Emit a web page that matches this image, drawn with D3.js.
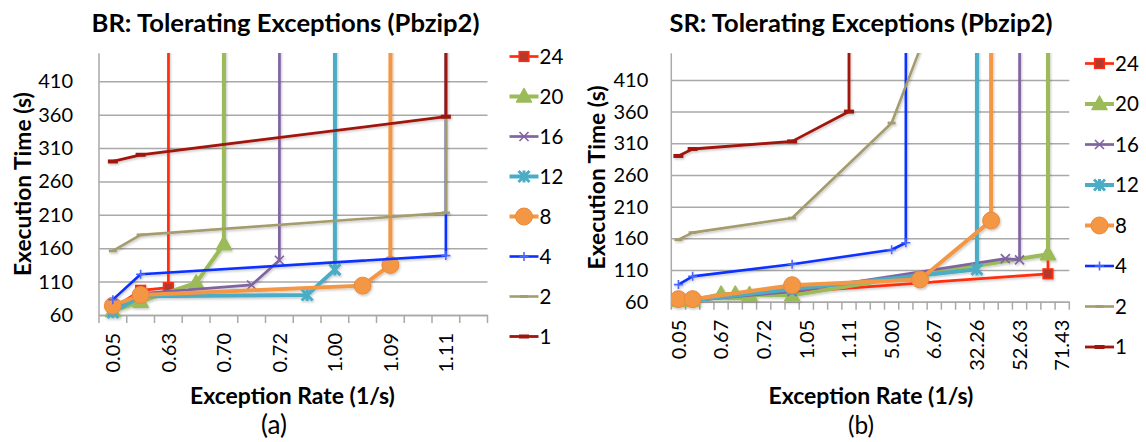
<!DOCTYPE html>
<html>
<head>
<meta charset="utf-8">
<script src="https://cdn.jsdelivr.net/npm/d3@7"></script>
<style>
  body { margin: 0; background: #fff; }
  svg { display: block; font-family: Lato, "Open Sans", sans-serif; }
</style>
</head>
<body>
<svg id="chart" width="1146" height="442"></svg>
<script>
// A run that never finished: plotted far above the axis, so its segment leaves the top of the plot.
const FAIL = 100000;
const _ = null;

// Thread counts, in series order (first series drawn first).
const threadCounts = ["24", "20", "16", "12", "8", "4", "2", "1"];
const yTicks = [60, 110, 160, 210, 260, 310, 360, 410];

// ---- BR panel: exception rates (1/s) on the category axis ----
const brRates = ["0.05", "0.50", "0.63", "0.67", "0.70", "0.71", "0.72",
                 "0.83", "1.00", "1.05", "1.09", "1.10", "1.11", "1.25"];
// Execution time (s) per rate; blanks are rates a run was not measured at.
const brTime24 = [70, 97, 101, FAIL, _, _, _, _, _, _, _, _, _, _];
const brTime20 = [66, 80, _, 108, 166, FAIL, _, _, _, _, _, _, _, _];
const brTime16 = [66, 92, _, _, _, 105, 142, FAIL, _, _, _, _, _, _];
const brTime12 = [64, 88, _, _, _, _, _, 90, 128, FAIL, _, _, _, _];
const brTime8  = [74, 90, _, _, _, _, _, _, _, 104, 135, FAIL, _, _];
const brTime4  = [83, 121, _, _, _, _, _, _, _, _, _, _, 149, FAIL];
const brTime2  = [156, 180, _, _, _, _, _, _, _, _, _, _, 213, FAIL];
const brTime1  = [290, 300, _, _, _, _, _, _, _, _, _, _, 357, FAIL];

// ---- SR panel ----
const srRates = ["0.05", "0.50", "0.63", "0.67", "0.69", "0.70", "0.72",
                 "0.83", "1.00", "1.05", "1.09", "1.10", "1.11", "1.25",
                 "2.50", "5.00", "5.26", "6.25", "6.67", "10.00", "20.00",
                 "32.26", "40.00", "50.00", "52.63", "55.56", "66.67", "71.43"];
const srTime24 = [62, 62, _, _, _, _, _, _, 75, _, _, _, _, _, _, _, _, _, _, _, _, _, _, _, _, _, 104, FAIL];
const srTime20 = [62, 62, _, 72, 72, 71, _, _, 70, _, _, _, _, _, _, _, _, _, _, _, _, _, _, _, _, _, 135, FAIL];
const srTime16 = [62, 62, _, _, _, _, _, _, 76, _, _, _, _, _, _, _, _, _, _, _, _, _, _, 128, 126, FAIL, _, _];
const srTime12 = [62, 62, _, _, _, _, _, _, 80, _, _, _, _, _, _, _, _, _, _, _, _, 111, FAIL, _, _, _, _, _];
const srTime8  = [64, 64, _, _, _, _, _, _, 86, _, _, _, _, _, _, _, _, 95, _, _, _, _, 188, FAIL, _, _, _, _];
const srTime4  = [87, 100, _, _, _, _, _, _, 119, _, _, _, _, _, _, 142, 153, FAIL, _, _, _, _, _, _, _, _, _, _];
const srTime2  = [158, 169, _, _, _, _, _, _, 192, _, _, _, _, _, _, 342, _, 459, _, _, _, _, _, _, _, _, _, _];
const srTime1  = [290, 301, _, _, _, _, _, _, 313, _, _, _, 360, FAIL, _, _, _, _, _, _, _, _, _, _, _, _, _, _];

// Line and marker style per thread count.
const styles = {
  "24": { color: "#FF2D0F", width: 2.7, marker: "square" },
  "20": { color: "#9BBB59", width: 4,   marker: "triangle" },
  "16": { color: "#8064A2", width: 2.7, marker: "cross" },
  "12": { color: "#4BACC6", width: 4,   marker: "star" },
  "8":  { color: "#F39745", width: 4,   marker: "circle" },
  "4":  { color: "#0A30FF", width: 2.6, marker: "plus" },
  "2":  { color: "#A59C6D", width: 2.6, marker: "smallDash" },
  "1":  { color: "#A0150C", width: 2.8, marker: "dash" }
};

const GRID = "#A9A9A9";
const svg = d3.select("#chart");
const defs = svg.append("defs");

// Scale a text's font size so that it spans the given width.
function fitWidth(sel, width) {
  const size = parseFloat(sel.attr("font-size"));
  const w = sel.node().getComputedTextLength();
  if (w > 0) sel.attr("font-size", (size * width / w).toFixed(2));
  return sel;
}

function drawMarker(sel, type, color) {
  switch (type) {
    case "square":
      sel.append("rect").attr("x", -4.8).attr("y", -4.8).attr("width", 9.6).attr("height", 9.6)
        .attr("fill", "#B6382C").attr("stroke", color).attr("stroke-width", 1.6);
      break;
    case "triangle":
      sel.append("path").attr("d", "M0,-8L7.5,5.5L-7.5,5.5Z")
        .attr("fill", color).attr("stroke", color).attr("stroke-width", 1.5).attr("stroke-linejoin", "round");
      break;
    case "cross":
      sel.append("path").attr("d", "M-4.5,-4.5L4.5,4.5M-4.5,4.5L4.5,-4.5")
        .attr("stroke", color).attr("stroke-width", 1.6).attr("fill", "none");
      break;
    case "star":
      sel.append("path").attr("d", "M-5.5,-5.5L5.5,5.5M-5.5,5.5L5.5,-5.5M0,-6V6")
        .attr("stroke", color).attr("stroke-width", 3).attr("fill", "none");
      break;
    case "circle":
      sel.append("circle").attr("r", 8.5).attr("fill", color).attr("stroke", "#E8893A").attr("stroke-width", 1);
      break;
    case "plus":
      sel.append("path").attr("d", "M-4.5,0H4.5M0,-4.5V4.5")
        .attr("stroke", "#4A68FF").attr("stroke-width", 1.6).attr("fill", "none");
      break;
    case "smallDash":
      sel.append("rect").attr("x", -4).attr("y", -1.4).attr("width", 8).attr("height", 2.8).attr("fill", color);
      break;
    case "dash":
      sel.append("rect").attr("x", -5).attr("y", -2).attr("width", 10).attr("height", 4).attr("fill", color);
      break;
  }
}

function drawPanel(p) {
  const g = svg.append("g");
  const x = d3.scaleBand().domain(p.rates).range([p.left, p.right]).paddingInner(0).paddingOuter(0);
  const y = d3.scaleLinear().domain([60, 452]).range([p.bottom, p.top]);
  const cx = r => x(r) + x.bandwidth() / 2;

  // Horizontal gridlines and value labels
  const ya = g.append("g").attr("transform", `translate(${p.left},0)`)
    .call(d3.axisLeft(y).tickValues(yTicks).tickSize(-(p.right - p.left)).tickPadding(p.yPad));
  ya.select(".domain").remove();
  ya.selectAll(".tick line").attr("stroke", GRID).attr("stroke-width", 1.5);
  ya.selectAll(".tick text").attr("font-size", 20).attr("fill", "#000")
    .attr("font-family", "Lato, sans-serif");

  // Vertical axis line
  g.append("line").attr("x1", p.left).attr("x2", p.left).attr("y1", p.top).attr("y2", p.bottom)
    .attr("stroke", GRID).attr("stroke-width", 1.5);

  // Category axis: every n-th rate is labelled
  const labelled = p.rates.filter((d, i) => i % p.labelEvery === 0);
  const xa = g.append("g").attr("transform", `translate(0,${p.bottom})`)
    .call(d3.axisBottom(x).tickValues(labelled).tickSize(0).tickSizeOuter(0).tickPadding(0));
  xa.select(".domain").attr("stroke", GRID).attr("stroke-width", 1.5);
  xa.selectAll(".tick text")
    .attr("transform", "rotate(-90)")
    .attr("text-anchor", "end")
    .attr("x", -18).attr("y", 0).attr("dy", "0.36em")
    .attr("font-size", 20).attr("fill", "#000").attr("font-family", "Lato, sans-serif");

  // Tick marks between categories
  g.append("g").selectAll("line")
    .data(d3.range(p.rates.length + 1))
    .join("line")
    .attr("x1", i => p.left + i * x.bandwidth()).attr("x2", i => p.left + i * x.bandwidth())
    .attr("y1", p.bottom).attr("y2", p.bottom + 8)
    .attr("stroke", GRID).attr("stroke-width", 1.5);

  // Series
  const clipId = "clip-" + p.id;
  defs.append("clipPath").attr("id", clipId)
    .append("rect").attr("x", p.left).attr("y", p.top)
    .attr("width", p.right - p.left + 20).attr("height", p.bottom - p.top + 20);
  const shadowId = "shadow-" + p.id;
  defs.append("filter").attr("id", shadowId).attr("filterUnits", "userSpaceOnUse")
    .attr("x", p.left - 20).attr("y", p.top - 10).attr("width", p.right - p.left + 40).attr("height", p.bottom - p.top + 40)
    .append("feDropShadow").attr("dx", 1).attr("dy", 1.5).attr("stdDeviation", 1.2)
    .attr("flood-color", "#000").attr("flood-opacity", 0.22);

  const plot = g.append("g").attr("clip-path", `url(#${clipId})`)
    .append("g").attr("filter", `url(#${shadowId})`);

  const line = d3.line().x(d => cx(d.r)).y(d => y(d.v));

  p.series.forEach((values, si) => {
    const name = threadCounts[si];
    const st = styles[name];
    const pts = p.rates.map((r, i) => ({ r, v: values[i] })).filter(d => d.v != null);
    const sg = plot.append("g");
    sg.append("path").datum(pts).attr("d", line)
      .attr("fill", "none").attr("stroke", st.color).attr("stroke-width", st.width)
      .attr("stroke-linejoin", "round").attr("stroke-linecap", "butt");
    sg.selectAll("g.m").data(pts.filter(d => d.v <= 452)).join("g")
      .attr("class", "m")
      .attr("transform", d => `translate(${cx(d.r)},${y(d.v)})`)
      .each(function () { drawMarker(d3.select(this), st.marker, st.color); });
  });

  // Legend
  const lg = g.append("g");
  threadCounts.forEach((name, i) => {
    const st = styles[name];
    const ly = p.legY + i * p.legDy;
    const e = lg.append("g").attr("transform", `translate(${p.legX},${ly})`);
    e.append("line").attr("x1", 0).attr("x2", 29).attr("y1", 0).attr("y2", 0)
      .attr("stroke", st.color).attr("stroke-width", st.width);
    drawMarker(e.append("g").attr("transform", "translate(14.5,0)"), st.marker, st.color);
    e.append("text").attr("x", 30).attr("y", 0).attr("dy", "0.36em")
      .attr("font-size", 20.5).attr("fill", "#000").text(name);
  });

  // Titles
  fitWidth(g.append("text").attr("x", p.titleX).attr("y", 31.5).attr("text-anchor", "middle")
    .attr("font-size", 22).attr("font-weight", 700).attr("fill", "#000").text(p.title), p.titleWidth);
  const yc = (p.top + p.bottom) / 2;
  fitWidth(g.append("text").attr("transform", `translate(${p.yTitleX},${yc}) rotate(-90)`)
    .attr("text-anchor", "middle").attr("dy", "0.36em")
    .attr("font-size", 19).attr("font-weight", 700).attr("fill", "#000").text("Execution Time (s)"), 184);
  fitWidth(g.append("text").attr("x", p.xTitleX).attr("y", 404).attr("text-anchor", "middle")
    .attr("font-size", 19).attr("font-weight", 700).attr("fill", "#000").text("Exception Rate (1/s)"), 205);
  fitWidth(g.append("text").attr("x", p.captionX).attr("y", 434).attr("text-anchor", "middle")
    .attr("font-size", 21).attr("fill", "#000").text(p.caption), 26);
}

drawPanel({
  id: "br", rates: brRates,
  series: [brTime24, brTime20, brTime16, brTime12, brTime8, brTime4, brTime2, brTime1],
  left: 99, right: 487.5, top: 53.3, bottom: 315, yPad: 26, labelEvery: 2,
  legX: 509.5, legY: 56.5, legDy: 40,
  title: "BR: Tolerating Exceptions (Pbzip2)", titleX: 285.5, titleWidth: 388, yTitleX: 23,
  xTitleX: 292.5, caption: "(a)", captionX: 274
});

drawPanel({
  id: "sr", rates: srRates,
  series: [srTime24, srTime20, srTime16, srTime12, srTime8, srTime4, srTime2, srTime1],
  left: 671.3, right: 1069.3, top: 53.3, bottom: 301.7, yPad: 23, labelEvery: 3,
  legX: 1085, legY: 63.5, legDy: 40.5,
  title: "SR: Tolerating Exceptions (Pbzip2)", titleX: 861, titleWidth: 383, yTitleX: 597,
  xTitleX: 871, caption: "(b)", captionX: 861
});
</script>
</body>
</html>
